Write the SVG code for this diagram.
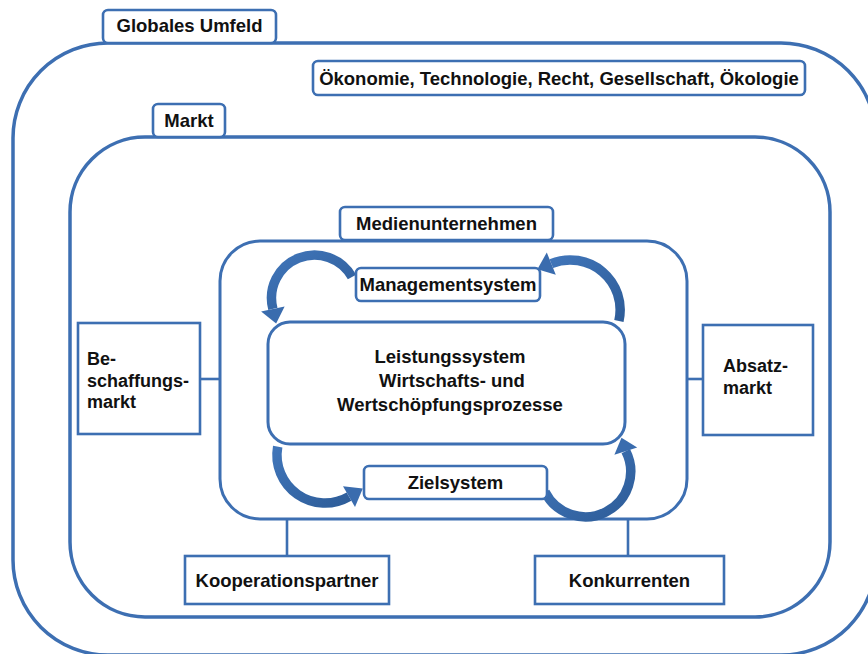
<svg xmlns="http://www.w3.org/2000/svg" width="868" height="654" viewBox="0 0 868 654">
  <defs>
    <style>
      .frame { fill: none; stroke: #3d6fb2; stroke-width: 3.5; }
      .box { fill: #ffffff; stroke: #3d6fb2; stroke-width: 3; }
      .tag { fill: #ffffff; stroke: #3d6fb2; stroke-width: 2.6; }
      .link { stroke: #3d6fb2; stroke-width: 2.6; fill: none; }
      .lbl { font-family: "Liberation Sans", Arial, sans-serif; font-size: 18.5px; font-weight: bold; fill: #111111; text-anchor: middle; }
      .side { font-family: "Liberation Sans", Arial, sans-serif; font-size: 18px; font-weight: bold; fill: #111111; }
      .arc { fill: none; stroke: url(#arrowShade); stroke-width: 9.5; }
      .head { fill: #3a6cae; }
    </style>
    <linearGradient id="arrowShade" x1="0" y1="0" x2="1" y2="1">
      <stop offset="0" stop-color="#4075b9"/>
      <stop offset="1" stop-color="#2e5d99"/>
    </linearGradient>
  </defs>

  <!-- outer environment -->
  <g id="globales-umfeld">
    <rect class="frame" x="13" y="43" width="863" height="612" rx="95"/>
    <rect class="tag" x="103" y="10" width="173" height="33" rx="5"/>
    <text class="lbl" x="189.5" y="32">Globales Umfeld</text>
  </g>

  <g id="umfeldfaktoren">
    <rect class="tag" x="313" y="61" width="492" height="34" rx="5"/>
    <text class="lbl" x="559" y="84.5">Ökonomie, Technologie, Recht, Gesellschaft, Ökologie</text>
  </g>

  <!-- market -->
  <g id="markt">
    <rect class="frame" x="70" y="137" width="760" height="480" rx="75"/>
    <rect class="tag" x="153" y="104" width="72" height="33" rx="5"/>
    <text class="lbl" x="189" y="126.5">Markt</text>
  </g>

  <!-- links between the company and its partners -->
  <g id="connectors">
    <line class="link" x1="200" y1="379" x2="220" y2="379"/>
    <line class="link" x1="687" y1="379" x2="703" y2="379"/>
    <line class="link" x1="287" y1="519" x2="287" y2="556"/>
    <line class="link" x1="628" y1="519" x2="628" y2="556"/>
  </g>

  <!-- media company -->
  <g id="medienunternehmen">
    <rect class="box" x="220" y="241" width="467" height="278" rx="40"/>
    <rect class="tag" x="340" y="207" width="213" height="33" rx="5"/>
    <text class="lbl" x="446.5" y="230">Medienunternehmen</text>
  </g>

  <!-- cycle arrows -->
  <g id="kreislauf">
    <path class="arc" d="M 352 277 A 43 43 0 0 0 272.9 308.9"/>
    <polygon class="head" points="261.1,311.4 284.6,306.4 276.1,323.6"/>
    <path class="arc" d="M 618.9 321 A 50 50 0 0 0 551.3 263.6"/>
    <polygon class="head" points="546.8,252.5 555.8,274.7 537.4,269.2"/>
    <path class="arc" d="M 277.7 446.7 A 48 48 0 0 0 349 496.6"/>
    <polygon class="head" points="343,486.2 355,506.9 362.8,488.6"/>
    <path class="arc" d="M 545 492 A 45 45 0 0 0 625.8 451.1"/>
    <polygon class="head" points="637.2,447.4 614.4,454.8 621.5,437.8"/>
  </g>

  <g id="managementsystem">
    <rect class="tag" x="356" y="268" width="184" height="33" rx="5"/>
    <text class="lbl" x="448" y="291">Managementsystem</text>
  </g>

  <g id="leistungssystem">
    <rect class="box" x="268" y="322" width="357" height="122" rx="22"/>
    <text class="lbl" x="450" y="363">Leistungssystem</text>
    <text class="lbl" x="452" y="387">Wirtschafts- und</text>
    <text class="lbl" x="450" y="411">Wertschöpfungsprozesse</text>
  </g>

  <g id="zielsystem">
    <rect class="tag" x="364" y="466" width="183" height="33" rx="5"/>
    <text class="lbl" x="455.5" y="489">Zielsystem</text>
  </g>

  <g id="beschaffungsmarkt">
    <rect class="tag" x="78" y="323" width="122" height="111"/>
    <text class="side" x="87" y="365">Be-</text>
    <text class="side" x="87" y="387">schaffungs-</text>
    <text class="side" x="87" y="408">markt</text>
  </g>

  <g id="absatzmarkt">
    <rect class="tag" x="703" y="325" width="110" height="110"/>
    <text class="side" x="723" y="372">Absatz-</text>
    <text class="side" x="723" y="394">markt</text>
  </g>

  <g id="kooperationspartner">
    <rect class="tag" x="185" y="556" width="204" height="48"/>
    <text class="lbl" x="287" y="586.5">Kooperationspartner</text>
  </g>

  <g id="konkurrenten">
    <rect class="tag" x="535" y="556" width="189" height="48"/>
    <text class="lbl" x="629.5" y="586.5">Konkurrenten</text>
  </g>
</svg>
